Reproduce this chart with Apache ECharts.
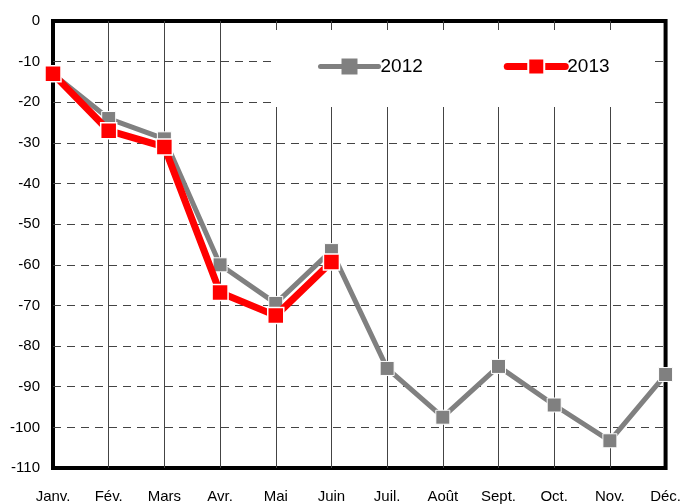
<!DOCTYPE html>
<html><head><meta charset="utf-8">
<script src="https://cdn.jsdelivr.net/npm/echarts@6/dist/echarts.min.js"></script>
<style>html,body{margin:0;padding:0;background:#fff}#c{width:684px;height:504px}</style>
</head><body><div id="c"></div>
<script>
var months = ['Janv.','Fév.','Mars','Avr.','Mai','Juin','Juil.','Août','Sept.','Oct.','Nov.','Déc.'];
var s2012 = [-13, -24, -29, -60, -69.5, -56.5, -85.5, -97.5, -85, -94.5, -103.3, -87];
var s2013 = [-13, -27, -31, -66.8, -72.5, -59.3];
var yTicks = {min: -110, max: 0, interval: 10};
var FONT = "'Liberation Sans Narrow','Arial Narrow','Liberation Sans',Arial,sans-serif";
var chart = echarts.init(document.getElementById('c'));
chart.setOption({
  animation: false,
  grid: {left: 53, right: 16, top: 21, bottom: 34, show: true, borderColor: '#000', borderWidth: 4, backgroundColor: 'transparent'},
  graphic: [{type: 'rect', shape: {x: 273, y: 30, width: 379, height: 77}, style: {fill: '#fff'}, z: 1, silent: true}],
  legend: {
    left: 318, top: 57, padding: 0, itemGap: 81, itemWidth: 58, itemHeight: 20, z: 5,
    textStyle: {fontFamily: FONT, fontSize: 19, color: '#000', padding: [0, 0, 0, -3]},
    data: [
      {name: '2012', lineStyle: {width: 5, cap: 'round', color: '#808080'}, itemStyle: {color: '#808080', borderWidth: 0}},
      {name: '2013', lineStyle: {width: 7, cap: 'round', color: '#ff0000'}, itemStyle: {color: '#ff0000', borderColor: '#fff', borderWidth: 2}}
    ]
  },
  xAxis: {
    type: 'category', data: months, boundaryGap: false,
    axisLine: {show: false}, axisTick: {show: false},
    axisLabel: {margin: 21, fontFamily: FONT, fontSize: 15, color: '#000', interval: 0},
    splitLine: {show: true, showMinLine: false, showMaxLine: false, lineStyle: {color: '#444', width: 1, type: 'solid'}}
  },
  yAxis: {
    type: 'value', min: yTicks.min, max: yTicks.max, interval: yTicks.interval,
    axisLine: {show: false}, axisTick: {show: false},
    axisLabel: {margin: 13, fontFamily: FONT, fontSize: 15, color: '#000'},
    splitLine: {show: true, showMinLine: false, showMaxLine: false, lineStyle: {color: '#444', width: 1, type: [8, 6]}}
  },
  series: [
    {name: '2012', type: 'line', data: s2012, symbol: 'rect', symbolSize: 14, z: 3,
     lineStyle: {color: '#808080', width: 5}, itemStyle: {color: '#808080', borderColor: '#fff', borderWidth: 1}},
    {name: '2013', type: 'line', data: s2013, symbol: 'rect', symbolSize: 16, z: 4,
     lineStyle: {color: '#ff0000', width: 7}, itemStyle: {color: '#ff0000', borderColor: '#fff', borderWidth: 1.5}}
  ]
});
</script></body></html>
